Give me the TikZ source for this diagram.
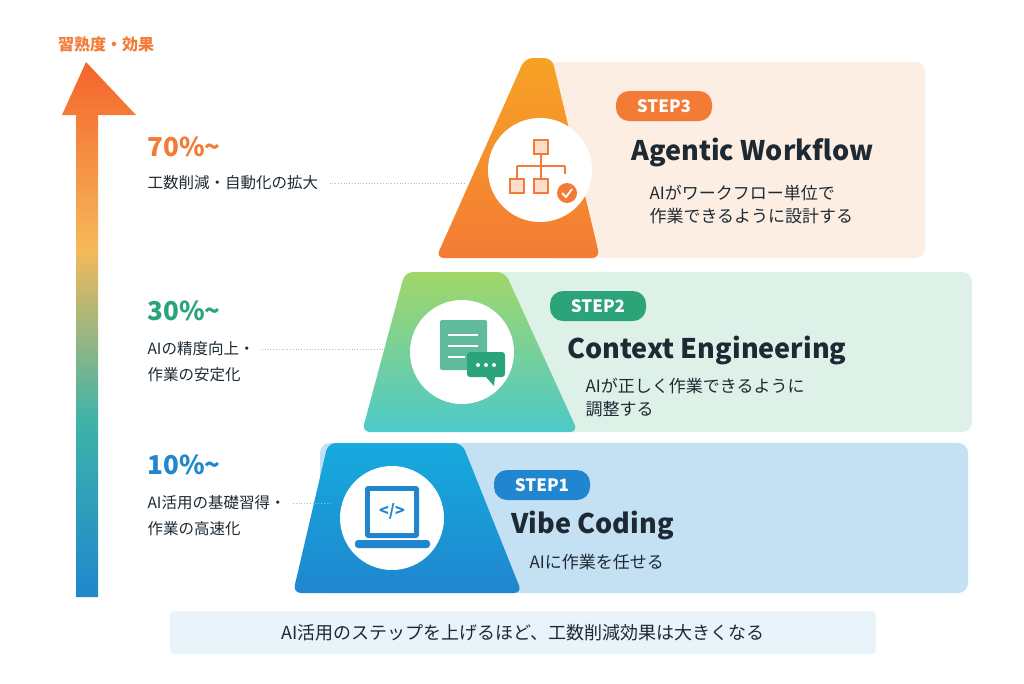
\documentclass[tikz,border=0pt]{standalone}
\usepackage{fontspec}
\setmainfont{Noto Sans CJK JP}
\usetikzlibrary{positioning,shapes.geometric}
\definecolor{orangeC}{HTML}{F37B35}
\definecolor{greenC}{HTML}{2BA47A}
\definecolor{blueC}{HTML}{1F86CF}
\definecolor{peach}{HTML}{FDEEE3}
\definecolor{mint}{HTML}{DDF1E8}
\definecolor{sky}{HTML}{C4E1F4}
\definecolor{ink}{HTML}{1E2A33}
\definecolor{sun}{HTML}{F5B95A}
\definecolor{tealC}{HTML}{3FB3A8}
\tikzset{
  badge/.style={rounded corners=13pt, minimum width=96pt, minimum height=30pt, text=white, font=\fontsize{17}{17}\selectfont\bfseries},
  title/.style={anchor=west, text=ink, font=\fontsize{27}{27}\selectfont\bfseries},
  desc/.style={anchor=west, text=ink, font=\fontsize{17}{23}\selectfont, align=left},
  pct/.style={anchor=west, font=\fontsize{26}{26}\selectfont\bfseries},
  note/.style={anchor=west, text=ink, font=\fontsize{15.5}{26}\selectfont, align=left},
  guide/.style={dotted, line width=0.8pt, blueC!50},
  disc/.style={circle, fill=white, minimum size=104pt, inner sep=0pt}
}
\begin{document}
\begin{tikzpicture}[x=1pt,y=-1pt]
  \useasboundingbox[fill=white] (0,0) rectangle (1024,683);

  % vertical arrow with gradient
  \begin{scope}
    \clip (76,115) -- (62,115) -- (86,62) -- (136,115) -- (98,115) -- (98,597) -- (76,597) -- cycle;
    \shade[top color=orangeC!80!red, bottom color=sun] (60,60) rectangle (140,250);
    \shade[top color=sun, bottom color=tealC] (60,249) rectangle (140,420);
    \shade[top color=tealC, bottom color=blueC] (60,419) rectangle (140,600);
  \end{scope}
  \node[text=orangeC, font=\fontsize{16}{16}\selectfont\bfseries] (axis) at (106,44) {習熟度・効果};

  % panels
  \fill[peach, rounded corners=10pt] (540,62) rectangle (925,258);
  \fill[mint, rounded corners=10pt] (420,272) rectangle (972,432);
  \fill[sky, rounded corners=10pt] (320,443) rectangle (968,593);

  % pyramid tiers
  \shade[top color=orangeC!70!yellow, bottom color=orangeC, rounded corners=8pt]
    (525,58) -- (552,58) -- (600,258) -- (436,258) -- cycle;
  \shade[top color=greenC!55!yellow!80, bottom color=teal!60!cyan!70, rounded corners=8pt]
    (405,272) -- (505,272) -- (578,432) -- (362,432) -- cycle;
  \shade[top color=blueC!70!cyan, bottom color=blueC, rounded corners=8pt]
    (328,443) -- (462,443) -- (522,593) -- (293,593) -- cycle;

  % icon discs
  \node[disc] (ic3) at (540,170) {};
  \node[disc] (ic2) at (462,352) {};
  \node[disc] (ic1) at (392,518) {};

  % workflow icon
  \begin{scope}[orangeC, line width=1.6pt]
    \draw[fill=orangeC!25] (534,140) rectangle (548,154);
    \draw (541,154) -- (541,166) (517,166) -- (565,166) (517,166) -- (517,179) (541,166) -- (541,179) (565,166) -- (565,174);
    \draw[fill=orangeC!25] (510,179) rectangle (524,193);
    \draw[fill=orangeC!25] (534,179) rectangle (548,193);
    \fill (567,193) circle (10pt);
    \draw[white, line width=1.8pt] (562,193) -- (566,197) -- (572,189);
  \end{scope}

  % document and chat icon
  \fill[greenC!75, rounded corners=2pt] (440,320) rectangle (487,370);
  \draw[white, line width=1.8pt] (448,335) -- (478,335) (448,346) -- (478,346) (448,357) -- (465,357);
  \fill[greenC, rounded corners=3pt] (467,352) rectangle (505,377);
  \fill[greenC] (485,376) -- (495,376) -- (494,386) -- cycle;
  \foreach \dx in {478,486,494} \fill[white] (\dx,365) circle (2pt);

  % laptop icon
  \fill[blueC, rounded corners=3pt] (365,486) rectangle (419,538);
  \fill[white] (370,491) rectangle (414,533);
  \fill[blueC, rounded corners=3pt] (355,540) rectangle (430,548);
  \node[text=blueC, font=\fontsize{16}{16}\selectfont\bfseries] (code) at (392,511) {</>};

  % step contents
  \node[badge, fill=orangeC] (s3) at (664,106) {STEP3};
  \node[title] (t3) at (628,153) {Agentic Workflow};
  \node[desc] (d3) at (646,204) {AIがワークフロー単位で\\作業できるように設計する};

  \node[badge, fill=greenC] (s2) at (598,306) {STEP2};
  \node[title] (t2) at (564,350) {Context Engineering};
  \node[desc] (d2) at (582,398) {AIが正しく作業できるように\\調整する};

  \node[badge, fill=blueC] (s1) at (542,485) {STEP1};
  \node[title] (t1) at (508,525) {Vibe Coding};
  \node[desc] (d1) at (526,562) {AIに作業を任せる};

  % left side labels
  \node[pct, text=orangeC] (p3) at (144,147) {70\%\textasciitilde};
  \node[note] (n3) at (144,183) {工数削減・自動化の拡大};
  \node[pct, text=greenC] (p2) at (144,311) {30\%\textasciitilde};
  \node[note] (n2) at (144,362) {AIの精度向上・\\作業の安定化};
  \node[pct, text=blueC] (p1) at (144,465) {10\%\textasciitilde};
  \node[note] (n1) at (144,516) {AI活用の基礎習得・\\作業の高速化};

  \coordinate (g3) at (466,182);
  \coordinate (g2) at (396,349);
  \coordinate (g1) at (332,503);
  \draw[guide] ([xshift=8pt]n3.east) coordinate (a3) -- (g3 |- a3);
  \draw[guide] ([shift={(4,-13)}]n2.east) coordinate (a2) -- (g2 |- a2);
  \draw[guide] ([shift={(4,-13)}]n1.east) coordinate (a1) -- (g1 |- a1);

  % summary
  \fill[blueC!10, rounded corners=4pt] (170,611) rectangle (876,654);
  \node[text=ink, font=\fontsize{18}{18}\selectfont] (sum) at (523,633) {AI活用のステップを上げるほど、工数削減効果は大きくなる};
\end{tikzpicture}
\end{document}
